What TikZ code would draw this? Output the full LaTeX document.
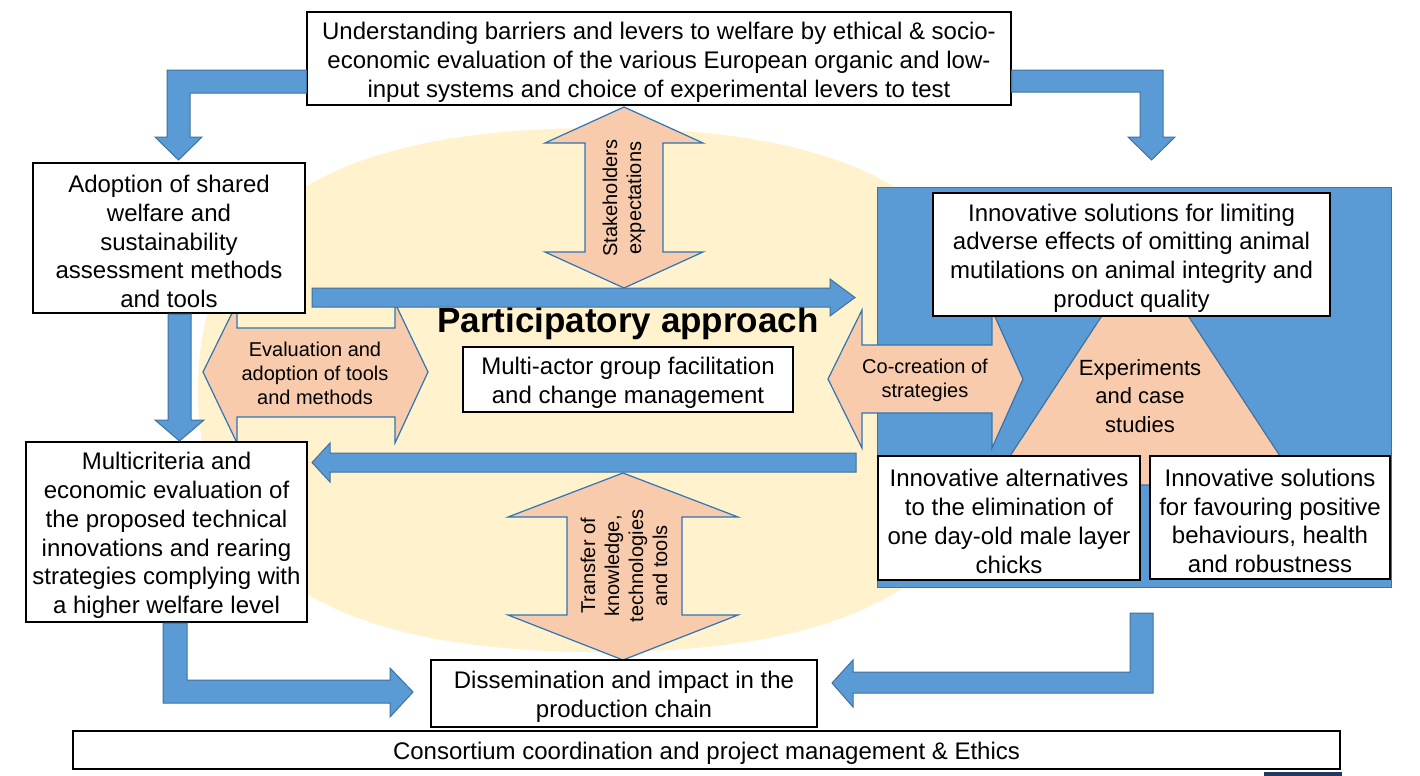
\documentclass[tikz,border=0pt]{standalone}
\usepackage{fontspec}
\setmainfont{Liberation Sans}
\definecolor{bblue}{HTML}{5B9BD5}
\definecolor{bedge}{HTML}{41719C}
\definecolor{peach}{HTML}{F8CBAD}
\definecolor{pedge}{HTML}{2E75B6}
\definecolor{ell}{HTML}{FFF2CC}
\definecolor{navy}{HTML}{1F3864}
\newcommand\tbox[6]{%
  \node[bx, minimum width=#4, minimum height=#5] (#1) at (#2,#3) {};
  \node[btxt] (#1-t) at ([yshift=-1.75pt]#1.center) {#6};}
\begin{document}
\begin{tikzpicture}[x=0.5pt,y=-0.5pt,
  bx/.style={draw=black, fill=white, line width=0.6pt, inner sep=0pt},
  btxt/.style={align=center, inner sep=0pt, font=\fontsize{12}{14.4}\selectfont},
  blk/.style={fill=bblue, draw=bedge, line width=0.5pt},
  pch/.style={fill=peach, draw=pedge, line width=0.6pt},
  lbl/.style={align=center, inner sep=0pt, font=\fontsize{10}{12}\selectfont}]
\useasboundingbox (0,0) rectangle (1420,776);
\fill[white] (0,0) rectangle (1420,776);
% participatory ellipse (slightly squarish)
\fill[ell] (1002,390) .. controls (1002,568) and (873,652) .. (600,652)
  .. controls (327,652) and (198,568) .. (198,390)
  .. controls (198,212) and (327,128) .. (600,128)
  .. controls (873,128) and (1002,212) .. (1002,390) -- cycle;
% experiments panel
\node[blk, minimum width=257pt, minimum height=200pt, inner sep=0pt] (panel) at (1134,387) {};
\draw[fill=peach, draw=bedge, line width=0.6pt] (1145,250) -- (1299,485) -- (991,485) -- cycle;
\node[font=\fontsize{11}{14.2}\selectfont, align=center, inner sep=0pt] (exp) at (1140,396) {Experiments\\and case\\studies};
% peach double arrows
\draw[pch] (203,372) -- (237,303) -- (237,328) -- (395,328) -- (395,303) -- (428,372) -- (395,443) -- (395,417) -- (237,417) -- (237,443) -- cycle;
\node[lbl] (evl) at (315,373) {Evaluation and\\adoption of tools\\and methods};
\draw[pch] (828,379) -- (862,310) -- (862,345) -- (992,345) -- (992,310) -- (1023,379) -- (992,448) -- (992,413) -- (862,413) -- (862,448) -- cycle;
\node[lbl] (cocr) at (925,380) {Co-creation of\\strategies};
\draw[pch] (624,107) -- (703,143) -- (663,143) -- (663,252) -- (703,252) -- (624,288) -- (545,252) -- (585,252) -- (585,143) -- (545,143) -- cycle;
\node[lbl, rotate=90] (stk) at (624,198) {Stakeholders\\expectations};
\draw[pch] (623,473) -- (738,517) -- (682,517) -- (682,615) -- (738,615) -- (623,660) -- (508,615) -- (567,615) -- (567,517) -- (508,517) -- cycle;
\node[lbl, rotate=90] (trf) at (624,566) {Transfer of\\knowledge,\\technologies\\and tools};
% text boxes
\tbox{top}{659}{58.5}{352pt}{46.5pt}{Understanding barriers and levers to welfare by ethical \& socio-\\economic evaluation of the various European organic and low-\\input systems and choice of experimental levers to test}
\tbox{adopt}{169}{238}{136pt}{75pt}{Adoption of shared\\welfare and\\sustainability\\assessment methods\\and tools}
\tbox{multi}{166.5}{532}{140.5pt}{90pt}{Multicriteria and\\economic evaluation of\\the proposed technical\\innovations and rearing\\strategies complying with\\a higher welfare level}
\tbox{diss}{624}{693.5}{193pt}{33.5pt}{Dissemination and impact in the\\production chain}
\tbox{cons}{706.5}{750}{633.5pt}{19pt}{Consortium coordination and project management \& Ethics}
\tbox{facil}{628}{379.5}{165pt}{32.5pt}{Multi-actor group facilitation\\and change management}
\tbox{itop}{1131.5}{254.5}{198.5pt}{61.5pt}{Innovative solutions for limiting\\adverse effects of omitting animal\\mutilations on animal integrity and\\product quality}
\tbox{ialt}{1009}{518}{131pt}{62pt}{Innovative alternatives\\to the elimination of\\one day-old male layer\\chicks}
\tbox{iright}{1270}{517.5}{120pt}{61.5pt}{Innovative solutions\\for favouring positive\\behaviours, health\\and robustness}
\node[font=\fontsize{17.5}{20}\selectfont\bfseries, inner sep=0pt] (part) at (628,323) {Participatory approach};
% blue block arrows
\draw[blk] (top.west |- 0,70) -- (167,70) -- (167,137) -- (155,137) -- (178.5,160) -- (202,137) -- (190,137) -- (190,93) -- (top.west |- 0,93) -- cycle;
\draw[blk] (top.east |- 0,70) -- (1163,70) -- (1163,137) -- (1175,137) -- (1151.5,160) -- (1128,137) -- (1140,137) -- (1140,92) -- (top.east |- 0,92) -- cycle;
\draw[blk] (312,288) -- (830,288) -- (830,279) -- (855,297.5) -- (830,316) -- (830,307) -- (312,307) -- cycle;
\draw[blk] (856,453) -- (330,453) -- (330,443) -- (312,462.5) -- (330,482) -- (330,472) -- (856,472) -- cycle;
\draw[blk] (168,314) -- (191,314) -- (191,420) -- (204,420) -- (179.5,441) -- (155,420) -- (168,420) -- cycle;
\draw[blk] (163,623) -- (187,623) -- (187,680) -- (390,680) -- (390,668) -- (413,692) -- (390,717) -- (390,703) -- (163,703) -- cycle;
\draw[blk] (1153,613) -- (1153,693) -- (853,693) -- (853,707) -- (832,683) -- (853,660) -- (853,672) -- (1130,672) -- (1130,613) -- cycle;
% footer mark
\fill[navy] (1264,772) rectangle (1342,776);
\end{tikzpicture}
\end{document}
